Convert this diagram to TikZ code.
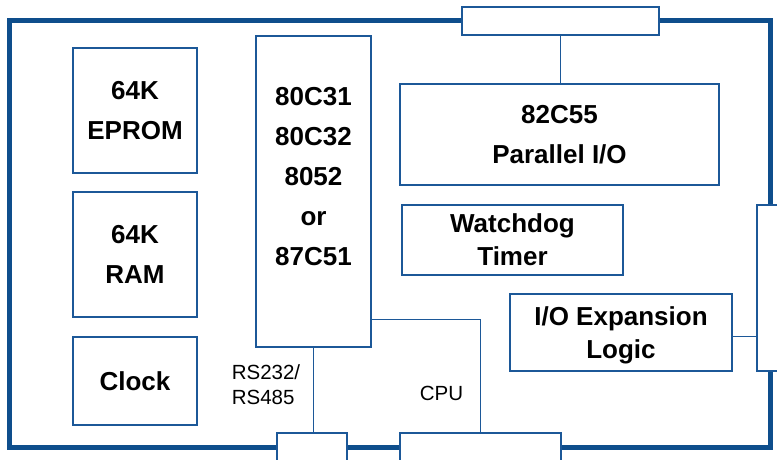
\documentclass[tikz,border=0pt]{standalone}
\usepackage{fontspec}
\setmainfont{Liberation Sans}
\usepackage{tikz}
\usetikzlibrary{positioning}
\definecolor{frameBlue}{RGB}{14,78,140}
\definecolor{boxBlue}{RGB}{28,88,152}

\begin{document}
\begin{tikzpicture}[x=1pt, y=-1pt,
    blk/.style={draw=boxBlue, line width=1.3pt, fill=white, inner sep=0pt, align=center, font=\bfseries\fontsize{26}{40}\selectfont},
    tight/.style={font=\bfseries\fontsize{26}{33}\selectfont},
    port/.style={draw=boxBlue, line width=1.3pt, fill=white, inner sep=0pt},
    wire/.style={draw=boxBlue, line width=1.3pt},
    txt/.style={inner sep=0pt, align=left, font=\fontsize{20.5}{25}\selectfont}]
    \useasboundingbox (0,0) rectangle (777,459);
    \clip (0,0) rectangle (777,459);
    % board outline
    \draw[frameBlue, line width=5pt] (9,20.5) rectangle (770,447.5);

    % memory and clock
    \node[blk, minimum width=124, minimum height=125] (eprom) at (135,110.5) {64K\\EPROM};
    \node[blk, minimum width=124, minimum height=125] (ram) at (135,254.5) {64K\\RAM};
    \node[blk, minimum width=124, minimum height=88] (clk) at (135,381) {Clock};

    % processor
    \node[blk, minimum width=115, minimum height=311, text depth=30pt] (mcu) at (313.5,191.5) {80C31\\80C32\\8052\\or\\87C51};

    % peripherals
    \node[blk, minimum width=319, minimum height=101] (ppi) at (559.5,134.5) {82C55\\Parallel I/O};
    \node[blk, tight, minimum width=221, minimum height=70] (wdt) at (512.5,240) {Watchdog\\Timer};
    \node[blk, tight, minimum width=222, minimum height=77, text depth=0pt] (ioexp) at (621,332.5) {I/O Expansion\\Logic};

    % connectors on the board edge
    \node[port, minimum width=197, minimum height=28] (topio) at (560.5,21) {};
    \node[port, minimum width=43, minimum height=166] (extio) at (778.5,288) {};
    \node[port, minimum width=70, minimum height=50] (serial) at (312,458) {};
    \node[port, minimum width=161, minimum height=50] (busio) at (480.5,458) {};

    \node[txt] (rs) at (266,385) {RS232/\\RS485};
    \node[txt] (cpu) at (441.5,393) {CPU};

    \draw[wire] (topio.south) -- (topio.south |- ppi.north);
    \draw[wire] ([yshift=-4pt]ioexp.east) -- ([yshift=-4pt]ioexp.east -| extio.west);
    \draw[wire] ([yshift=28pt]mcu.south east) -| (busio.north);
    \draw[wire] (mcu.south) -- (mcu.south |- serial.north);
\end{tikzpicture}
\end{document}
